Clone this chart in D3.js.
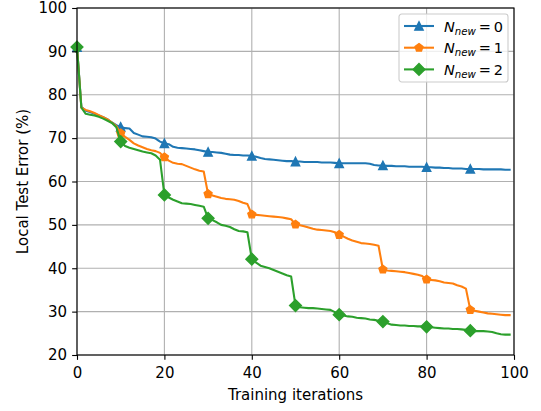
<!DOCTYPE html>
<html>
<head>
<meta charset="utf-8">
<script src="https://cdn.jsdelivr.net/npm/d3@7"></script>
<style>
  body { margin: 0; background: #fff; }
  svg { display: block; font-family: "DejaVu Sans", sans-serif; }
</style>
</head>
<body>
<svg id="chart" width="541" height="411"></svg>
<script>
"use strict";

const xTicks = [0, 20, 40, 60, 80, 100];
const yTicks = [20, 30, 40, 50, 60, 70, 80, 90, 100];

const seriesNames = ["0", "1", "2"];

// N_new = 0
const errorNew0 = [
    91.0, 77.2, 76.3, 76.0, 75.6, 75.2, 74.8, 74.3, 73.6, 73.0,
    72.6, 72.3, 72.2, 71.2, 70.8, 70.4, 70.3, 70.2, 69.9, 69.2,
    68.8, 68.6, 68.0, 67.8, 67.7, 67.6, 67.5, 67.4, 67.2, 67.0,
    66.8, 66.8, 66.7, 66.6, 66.4, 66.2, 66.1, 66.1, 66.0, 66.0,
    65.9, 65.7, 65.4, 65.2, 65.1, 65.0, 64.9, 64.8, 64.7, 64.7,
    64.6, 64.6, 64.5, 64.5, 64.5, 64.5, 64.4, 64.4, 64.4, 64.3,
    64.2, 64.2, 64.2, 64.2, 64.2, 64.2, 64.2, 64.1, 63.8, 63.7,
    63.7, 63.6, 63.6, 63.5, 63.5, 63.5, 63.4, 63.4, 63.4, 63.4,
    63.3, 63.3, 63.2, 63.2, 63.1, 63.1, 63.0, 63.0, 63.0, 62.9,
    62.9, 62.9, 62.9, 62.8, 62.8, 62.8, 62.8, 62.8, 62.7, 62.7,
];

// N_new = 1
const errorNew1 = [
    91.0, 77.0, 76.5, 76.2, 75.8, 75.3, 74.8, 74.3, 73.6, 72.8,
    71.1, 70.3, 69.6, 68.8, 68.3, 67.9, 67.5, 67.2, 67.0, 66.6,
    65.6, 64.8, 64.3, 64.1, 64.0, 63.6, 63.2, 62.8, 62.5, 62.3,
    57.1, 56.8, 56.5, 56.2, 56.0, 55.9, 55.8, 55.5, 55.1, 54.8,
    52.4, 52.3, 52.2, 52.1, 52.0, 51.9, 51.8, 51.7, 51.5, 51.3,
    50.1, 49.9, 49.7, 49.4, 49.1, 48.9, 48.8, 48.7, 48.6, 48.3,
    47.7, 47.3, 46.8, 46.4, 46.1, 45.8, 45.7, 45.6, 45.4, 45.2,
    39.7, 39.5, 39.4, 39.3, 39.2, 39.1, 38.9, 38.7, 38.5, 38.2,
    37.4, 37.3, 37.2, 37.0, 36.7, 36.6, 36.5, 36.1, 35.8, 35.3,
    30.4, 30.2, 30.0, 29.8, 29.6, 29.5, 29.4, 29.3, 29.2, 29.2,
];

// N_new = 2
const errorNew2 = [
    91.0, 77.0, 75.6, 75.4, 75.2, 74.9, 74.5, 74.0, 73.5, 72.5,
    69.2, 68.2, 67.8, 67.5, 67.2, 66.9, 66.7, 66.5, 66.0, 65.0,
    56.9, 56.3, 55.8, 55.4, 55.0, 54.9, 54.8, 54.6, 54.4, 54.2,
    51.5, 51.1, 50.6, 50.0, 49.8, 49.5, 49.0, 48.6, 48.5, 48.3,
    42.1, 41.3, 40.6, 40.3, 40.0, 39.6, 39.2, 38.8, 38.4, 38.1,
    31.4, 31.0, 30.9, 30.8, 30.8, 30.7, 30.6, 30.5, 30.4, 29.9,
    29.3, 29.1, 28.9, 28.8, 28.6, 28.5, 28.4, 28.2, 28.1, 27.9,
    27.7, 27.3, 27.0, 26.9, 26.8, 26.8, 26.7, 26.7, 26.6, 26.6,
    26.5, 26.4, 26.3, 26.2, 26.1, 26.1, 26.0, 26.0, 25.9, 25.8,
    25.6, 25.5, 25.5, 25.5, 25.4, 25.3, 25.0, 24.8, 24.7, 24.7,
];

const colors = ["#1f77b4", "#ff7f0e", "#2ca02c"];
const markEvery = 10;

const margin = {top: 8, right: 27, bottom: 56, left: 77};
const width = 541;
const height = 411;
const innerW = width - margin.left - margin.right;
const innerH = height - margin.top - margin.bottom;

const ms = 6 * 100 / 72; // marker size in px

function markerPath(kind) {
    const r = ms / 2;
    if (kind === "triangle") {
        return `M0,${-r}L${-r},${r}L${r},${r}Z`;
    }
    if (kind === "diamond") {
        const d = ms * Math.SQRT1_2;
        return `M0,${-d}L${d},0L0,${d}L${-d},0Z`;
    }
    // pentagon
    const pts = d3.range(5).map(k => {
        const a = -Math.PI / 2 + k * 2 * Math.PI / 5;
        return [r * Math.cos(a), r * Math.sin(a)];
    });
    return "M" + pts.map(p => p.join(",")).join("L") + "Z";
}

const markerKinds = ["triangle", "pentagon", "diamond"];

function main() {
    const svg = d3.select("#chart");
    const g = svg.append("g")
        .attr("transform", `translate(${margin.left},${margin.top})`);

    const x = d3.scaleLinear().domain([0, 100]).range([0, innerW]);
    const y = d3.scaleLinear().domain([20, 100]).range([innerH, 0]);

    // grid
    g.append("g")
        .selectAll("line")
        .data(xTicks)
        .join("line")
        .attr("x1", d => x(d)).attr("x2", d => x(d))
        .attr("y1", 0).attr("y2", innerH)
        .attr("stroke", "#b0b0b0").attr("stroke-width", 1.1);
    g.append("g")
        .selectAll("line")
        .data(yTicks)
        .join("line")
        .attr("x1", 0).attr("x2", innerW)
        .attr("y1", d => y(d)).attr("y2", d => y(d))
        .attr("stroke", "#b0b0b0").attr("stroke-width", 1.1);

    const allSeries = [errorNew0, errorNew1, errorNew2];
    const line = d3.line()
        .x((d, i) => x(i))
        .y(d => y(d));

    const plot = g.append("g");
    allSeries.forEach((values, s) => {
        plot.append("path")
            .datum(values)
            .attr("d", line)
            .attr("fill", "none")
            .attr("stroke", colors[s])
            .attr("stroke-width", 2.08)
            .attr("stroke-linejoin", "round")
            .attr("stroke-linecap", "square");
        const marks = values
            .map((v, i) => ({v, i}))
            .filter(d => d.i % markEvery === 0);
        plot.append("g")
            .selectAll("path")
            .data(marks)
            .join("path")
            .attr("transform", d => `translate(${x(d.i)},${y(d.v)})`)
            .attr("d", markerPath(markerKinds[s]))
            .attr("fill", colors[s])
            .attr("stroke", colors[s])
            .attr("stroke-width", 1.39)
            .attr("stroke-linejoin", "miter");
    });

    // axes
    const fontSize = "15px";
    const xAxis = g.append("g")
        .attr("transform", `translate(0,${innerH})`)
        .call(d3.axisBottom(x).tickValues(xTicks).tickSize(4.86).tickFormat(d3.format("d")));
    const yAxis = g.append("g")
        .call(d3.axisLeft(y).tickValues(yTicks).tickSize(4.86).tickPadding(5).tickFormat(d3.format("d")));
    [xAxis, yAxis].forEach(a => {
        a.select(".domain").remove();
        a.selectAll(".tick line").attr("stroke", "#000").attr("stroke-width", 1.1);
        a.selectAll(".tick text")
            .attr("fill", "#000")
            .style("font-family", "DejaVu Sans")
            .style("font-size", fontSize);
    });
    xAxis.selectAll(".tick text").attr("dy", null).attr("y", 23);

    // spines
    g.append("rect")
        .attr("x", 0).attr("y", 0)
        .attr("width", innerW).attr("height", innerH)
        .attr("fill", "none")
        .attr("stroke", "#000")
        .attr("stroke-width", 1.1);

    // labels
    svg.append("text")
        .attr("x", margin.left + innerW / 2)
        .attr("y", 400)
        .attr("text-anchor", "middle")
        .style("font-size", fontSize)
        .text("Training iterations");
    svg.append("text")
        .attr("transform", `translate(28,${margin.top + innerH / 2}) rotate(-90)`)
        .attr("text-anchor", "middle")
        .style("font-size", fontSize)
        .text("Local Test Error (%)");

    // legend
    const legend = svg.append("g").attr("transform", "translate(399,14)");
    legend.append("rect")
        .attr("width", 109).attr("height", 68)
        .attr("rx", 2.8)
        .attr("fill", "#fff").attr("fill-opacity", 0.8)
        .attr("stroke", "#cccccc").attr("stroke-width", 1.1);
    seriesNames.forEach((name, s) => {
        const row = legend.append("g")
            .attr("transform", `translate(0,${12 + s * 21.7})`);
        row.append("line")
            .attr("x1", 5).attr("x2", 35)
            .attr("stroke", colors[s]).attr("stroke-width", 2.08);
        row.append("path")
            .attr("transform", "translate(20,0)")
            .attr("d", markerPath(markerKinds[s]))
            .attr("fill", colors[s])
            .attr("stroke", colors[s])
            .attr("stroke-width", 1.39);
        const t = row.append("text")
            .attr("x", 45)
            .attr("y", 5.5)
            .style("font-size", "14.5px");
        t.append("tspan").style("font-style", "italic").text("N");
        t.append("tspan")
            .style("font-style", "italic")
            .style("font-size", "10.2px")
            .attr("dy", 3)
            .text("new");
        t.append("tspan")
            .attr("dy", -3)
            .text(`\u2009=\u2009${name}`);
    });
}

main();
</script>
</body>
</html>
